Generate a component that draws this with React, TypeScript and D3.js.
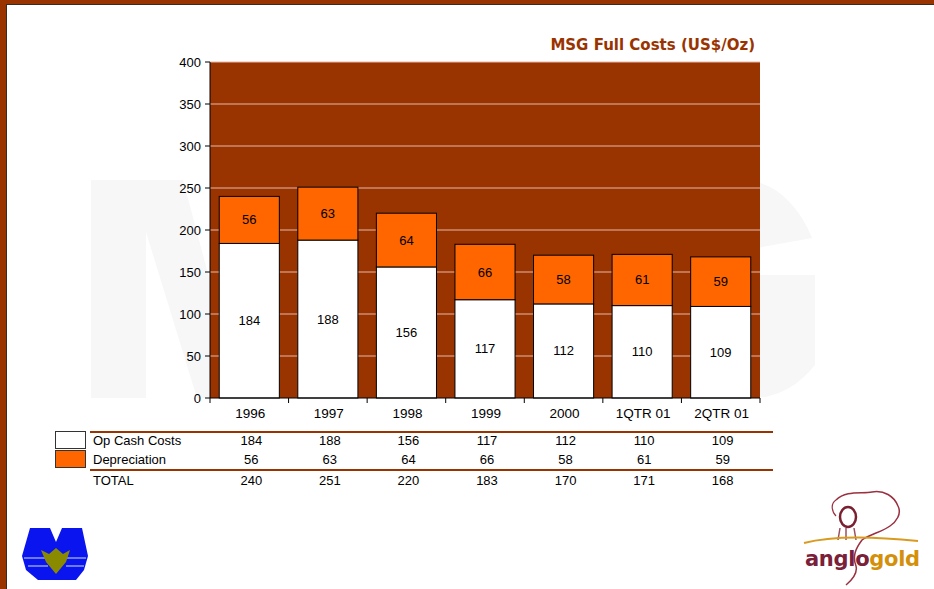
import React from "react";
import * as d3 from "d3";

const categories = ["1996", "1997", "1998", "1999", "2000", "1QTR 01", "2QTR 01"];
const opCashCosts = [184, 188, 156, 117, 112, 110, 109];
const depreciation = [56, 63, 64, 66, 58, 61, 59];
const totals = [240, 251, 220, 183, 170, 171, 168];
const yTicks = [0, 50, 100, 150, 200, 250, 300, 350, 400];
const seriesNames = ["Op Cash Costs", "Depreciation"];
const title = "MSG Full Costs (US$/Oz)";

const W = 934;
const H = 589;
const plot = { left: 210, right: 760, top: 62, bottom: 398 };
const BROWN = "#993300";
const ORANGE = "#ff6600";
const FONT = "'Liberation Sans', Arial, sans-serif";

export default function App() {
  const x = d3.scaleBand<string>().domain(categories).range([plot.left, plot.right]).paddingInner(0.235).paddingOuter(0.1175);
  const band = d3.scaleBand<string>().domain(categories).range([plot.left, plot.right]);
  const y = d3.scaleLinear().domain([0, 400]).range([plot.bottom, plot.top]);

  const rows = categories.map((c, i) => ({ cat: c, op: opCashCosts[i], dep: depreciation[i] }));
  const stacked = d3.stack<any>().keys(["op", "dep"])(rows);
  const fills = ["#ffffff", ORANGE];

  const boundaries = categories.map((c) => band(c)!).concat([plot.right]);

  return (
    <div style={{ position: "fixed", left: 0, top: 0 }}>
      <svg width={W} height={H} style={{ display: "block", background: "#fff" }}>
        {/* frame */}
        <rect x={0} y={0} width={W} height={4} fill={BROWN} />
        <rect x={0} y={4} width={W} height={1} fill="#3a2a20" />
        <rect x={0} y={0} width={6} height={H} fill={BROWN} />
        <rect x={6} y={4} width={1} height={H} fill="#3a2a20" />

        {/* watermark */}
        <g fill="#f7f7f7">
          <path d="M91,180 L183,180 L215,300 L215,398 L197,398 L146,232 L146,398 L91,398 Z" />
          <path d="M757,182 A80,112 0 0 1 812,238 L757,248 Z" />
          <path d="M757,275 L815,275 L815,365 A90,110 0 0 1 757,398 Z" />
        </g>

        {/* plot background */}
        <rect x={plot.left} y={plot.top} width={plot.right - plot.left} height={plot.bottom - plot.top} fill={BROWN} />
        {yTicks.filter((t) => t > 0).map((t) => (
          <line key={t} x1={plot.left} x2={plot.right} y1={y(t)} y2={y(t)} stroke="#e8b8a8" strokeWidth={1.2} />
        ))}

        {/* bars */}
        {stacked.map((s, si) => (
          <g key={si}>
            {s.map((d, i) => (
              <rect
                key={i}
                x={x(categories[i])}
                y={y(d[1])}
                width={x.bandwidth()}
                height={y(d[0]) - y(d[1])}
                fill={fills[si]}
                stroke="#000"
                strokeWidth={1}
              />
            ))}
          </g>
        ))}
        {stacked.map((s, si) => (
          <g key={"l" + si}>
            {s.map((d, i) => (
              <text
                key={i}
                x={x(categories[i])! + x.bandwidth() / 2}
                y={(y(d[0]) + y(d[1])) / 2 + 4.5}
                textAnchor="middle"
                fontFamily={FONT}
                fontSize={13}
                fill="#000"
              >
                {d[1] - d[0]}
              </text>
            ))}
          </g>
        ))}

        {/* axes */}
        <line x1={plot.left} x2={plot.left} y1={plot.top} y2={plot.bottom} stroke="#000" />
        <line x1={plot.left} x2={plot.right} y1={plot.bottom} y2={plot.bottom} stroke="#000" />
        {yTicks.map((t) => (
          <g key={t}>
            <line x1={plot.left - 5} x2={plot.left} y1={y(t)} y2={y(t)} stroke="#000" />
            <text x={plot.left - 9} y={y(t) + 4.5} textAnchor="end" fontFamily={FONT} fontSize={13} fill="#000">
              {t}
            </text>
          </g>
        ))}
        {boundaries.map((b, i) => (
          <line key={i} x1={b} x2={b} y1={plot.bottom} y2={plot.bottom + 5} stroke="#000" />
        ))}
        {categories.map((c) => (
          <text key={c} x={band(c)! + band.bandwidth() / 2 + 1} y={418} textAnchor="middle" fontFamily={FONT} fontSize={13.5} fill="#000">
            {c}
          </text>
        ))}

        {/* title */}
        <text x={755} y={50} textAnchor="end" fontFamily="'DejaVu Sans', Verdana, sans-serif" fontWeight="bold" fontSize={15} fill={BROWN}>
          {title}
        </text>

        {/* data table */}
        <line x1={90} x2={773} y1={432} y2={432} stroke={BROWN} strokeWidth={2} />
        <line x1={90} x2={773} y1={470} y2={470} stroke={BROWN} strokeWidth={2} />
        <rect x={55.5} y={431.5} width={30} height={17} fill="#fff" stroke="#333" />
        <rect x={55.5} y={450.5} width={30} height={17} fill={ORANGE} stroke="#333" />
        {[opCashCosts, depreciation, totals].map((vals, ri) => {
          const ty = [445, 464, 485][ri];
          const label = ri < 2 ? seriesNames[ri] : "TOTAL";
          return (
            <g key={ri}>
              <text x={93} y={ty} fontFamily={FONT} fontSize={13} fill="#000">
                {label}
              </text>
              {vals.map((v, i) => (
                <text key={i} x={band(categories[i])! + band.bandwidth() / 2 + 2} y={ty} textAnchor="middle" fontFamily={FONT} fontSize={13} fill="#000">
                  {v}
                </text>
              ))}
            </g>
          );
        })}

        {/* left logo */}
        <g>
          <path d="M30,528 L50,528 L56,542 L62,528 L82,528 L88,556 L84,570 L76,580 L38,580 L26,570 L22,556 Z" fill="#0a14ee" />
          <line x1={24} x2={86} y1={558} y2={558} stroke="#8e9cf8" strokeWidth={1.5} />
          <line x1={28} x2={48} y1={566} y2={566} stroke="#8e9cf8" strokeWidth={1.5} />
          <line x1={66} x2={84} y1={566} y2={566} stroke="#8e9cf8" strokeWidth={1.5} />
          <path d="M41,550 L49,554 L56,548 L63,554 L70,550 L66,562 L56,574 L46,562 Z" fill="#8a8a00" />
        </g>

        {/* right logo */}
        <g>
          <path d="M836,500 C846,490 862,494 872,492 C884,490 894,496 898,506 C902,514 896,522 890,526 C882,532 870,534 862,540 C856,548 852,556 856,566 C858,574 852,580 846,585"
            fill="none" stroke="#9a3040" strokeWidth={1.5} />
          <path d="M836,500 C830,504 832,512 836,516" fill="none" stroke="#9a3040" strokeWidth={1.2} />
          <ellipse cx={848} cy={517} rx={8} ry={10} fill="none" stroke="#7a2030" strokeWidth={2.5} />
          <path d="M840,528 L838,540 M846,528 L846,540 M854,528 L856,540" stroke="#9a5060" strokeWidth={1.5} />
          <path d="M804,543 C830,536 870,536 918,541" fill="none" stroke="#d99a20" strokeWidth={2} />
          <text x={805} y={566} fontFamily="'DejaVu Sans', Verdana, sans-serif" fontWeight="bold" fontSize={21} fill="#7a2038" letterSpacing={-0.3}>
            anglo
            <tspan fill="#d4900a">gold</tspan>
          </text>
        </g>
      </svg>
    </div>
  );
}
